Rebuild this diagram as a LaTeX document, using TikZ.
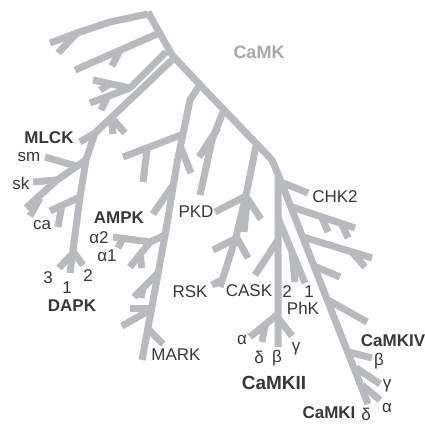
\documentclass[tikz,border=0pt]{standalone}
\usepackage{fontspec}
\setmainfont{Liberation Sans}
\definecolor{treegray}{RGB}{184,186,189}
\definecolor{labgray}{RGB}{55,55,57}
\tikzset{
  branch/.style={draw=treegray, line width=7pt, line join=round},
  lab/.style={text=labgray, inner sep=0pt, font=\fontsize{17}{18}\selectfont},
  clade/.style={lab, font=\bfseries\fontsize{17}{18}\selectfont}
}
\begin{document}
\begin{tikzpicture}[x=1pt, y=-1pt]
    \useasboundingbox (0,0) rectangle (425,424);
    % Trunk, then CaMKII stem
    \draw[branch] (148,12) -- (172,55) -- (203,88) -- (272,160) -- (278,174) -- (278,347);
    % Right spine down to CaMKI
    \draw[branch] (278,174) -- (368,404);
    % Top left branches
    \draw[branch] (148,14) -- (110,22) -- (77,33) -- (50,43);
    \draw[branch] (77,33) -- (58,53);
    \draw[branch] (157,34) -- (75,70);
    \draw[branch] (120,50) -- (112,66);
    \draw[branch] (166,52) -- (130,88) -- (93,80);
    \draw[branch] (130,88) -- (90,103);
    \draw[branch] (110,84) -- (100,90);
    \draw[branch] (108,96) -- (101,110);
    % MLCK and DAPK
    \draw[branch] (172,60) -- (95,133) -- (80,142);
    \draw[branch] (111,117) -- (113,134);
    \draw[branch] (111,117) -- (125,133);
    \draw[branch] (95,133) -- (86,160) -- (80,197) -- (70,273);
    \draw[branch] (86,160) -- (57,180) -- (26,208);
    \draw[branch] (76,166) -- (45,157);
    \draw[branch] (57,180) -- (33,182);
    \draw[branch] (40,198) -- (30,216);
    \draw[branch] (80,197) -- (50,211);
    \draw[branch] (62,204) -- (58,227);
    \draw[branch] (71,255) -- (59,268);
    \draw[branch] (72,250) -- (83,265);
    % AMPK and MARK
    \draw[branch] (199,86) -- (190,100) -- (177,163) -- (166,230) -- (155,290) -- (142,360);
    \draw[branch] (181,135) -- (123,157);
    \draw[branch] (147,150) -- (143,182);
    \draw[branch] (181,148) -- (191,173);
    \draw[branch] (173,185) -- (153,214);
    \draw[branch] (165,235) -- (150,242) -- (113,237);
    \draw[branch] (123,238) -- (118,248);
    \draw[branch] (150,242) -- (130,267);
    \draw[branch] (140,255) -- (142,268);
    \draw[branch] (158,273) -- (134,297);
    \draw[branch] (143,287) -- (141,298);
    \draw[branch] (152,308) -- (130,308);
    \draw[branch] (150,310) -- (122,326);
    \draw[branch] (147,328) -- (163,344);
    % PKD
    \draw[branch] (223,112) -- (212,140) -- (200,195);
    \draw[branch] (218,128) -- (199,157);
    % RSK
    \draw[branch] (256,146) -- (246,195) -- (236,237) -- (220,287);
    \draw[branch] (246,196) -- (215,212);
    \draw[branch] (247,198) -- (261,219);
    \draw[branch] (247,202) -- (244,232);
    \draw[branch] (237,238) -- (213,250);
    \draw[branch] (237,238) -- (248,258);
    \draw[branch] (222,280) -- (212,285);
    % CASK, PhK, CaMKII
    \draw[branch] (278,240) -- (255,275);
    \draw[branch] (278,218) -- (305,283);
    \draw[branch] (292,252) -- (295,282);
    \draw[branch] (277,315) -- (250,337);
    \draw[branch] (265,325) -- (262,342);
    \draw[branch] (278,318) -- (292,336);
    % CHK2 and CaMKIV, CaMKI
    \draw[branch] (283,183) -- (308,193);
    \draw[branch] (292,207) -- (355,228);
    \draw[branch] (322,218) -- (328,232);
    \draw[branch] (342,225) -- (348,238);
    \draw[branch] (303,237) -- (372,258);
    \draw[branch] (352,252) -- (365,267);
    \draw[branch] (314,266) -- (340,277);
    \draw[branch] (328,300) -- (367,322);
    \draw[branch] (349,352) -- (372,358);
    \draw[branch] (356,368) -- (380,384);
    \draw[branch] (362,385) -- (380,400);
    % Labels
    \node[clade, text=treegray!90!black, font=\bfseries\fontsize{18}{18}\selectfont] (camk) at (259,52) {CaMK};
    \node[clade] (mlck) at (49,138) {MLCK};
    \node[lab] (sm) at (29,157) {sm};
    \node[lab] (sk) at (21,183) {sk};
    \node[lab] (ca) at (42,225) {ca};
    \node[lab] (d3) at (48,278) {3};
    \node[lab] (d1) at (67,288) {1};
    \node[lab] (d2) at (88,276) {2};
    \node[clade] (dapk) at (72,306) {DAPK};
    \node[clade] (ampk) at (119,218) {AMPK};
    \node[lab] (a2) at (99,238) {α2};
    \node[lab] (a1) at (107,256) {α1};
    \node[lab] (pkd) at (196,212) {PKD};
    \node[lab] (rsk) at (190,292) {RSK};
    \node[lab] (cask) at (249,291) {CASK};
    \node[lab] (p2) at (287,292) {2};
    \node[lab] (p1) at (309,292) {1};
    \node[lab] (phk) at (303,308) {PhK};
    \node[lab] (chk) at (335,197) {CHK2};
    \node[lab] (mark) at (176,355) {MARK};
    \node[lab] (iia) at (242,340) {α};
    \node[lab] (iid) at (259,357) {δ};
    \node[lab] (iib) at (277,358) {β};
    \node[lab] (iig) at (296,349) {γ};
    \node[clade, font=\bfseries\fontsize{19}{20}\selectfont] (camkii) at (274,383) {CaMKII};
    \node[clade] (camkiv) at (393,341) {CaMKIV};
    \node[lab] (ivb) at (379,361) {β};
    \node[lab] (ivg) at (387,386) {γ};
    \node[lab] (ia) at (387,408) {α};
    \node[lab] (id) at (366,414) {δ};
    \node[clade] (camki) at (329,413) {CaMKI};
\end{tikzpicture}
\end{document}
